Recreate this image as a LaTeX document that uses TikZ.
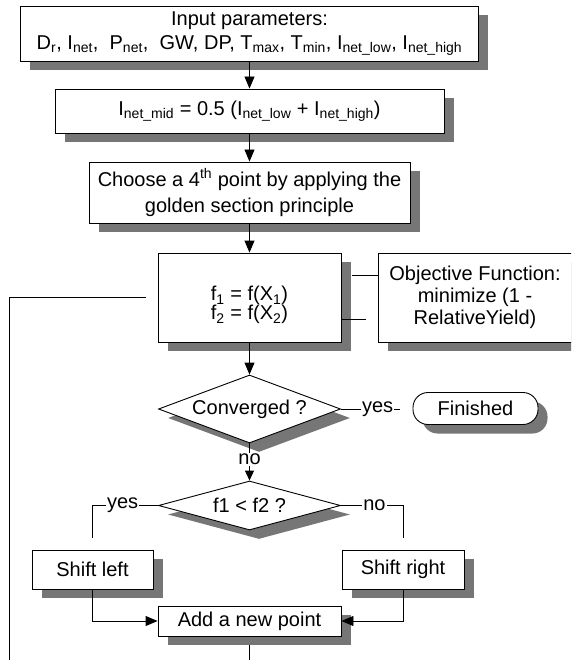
\documentclass[tikz,border=0pt]{standalone}
\usepackage{fontspec}
\setmainfont{Liberation Sans}
\usetikzlibrary{shapes.geometric,shadows,arrows.meta,calc}
\definecolor{shadowgray}{RGB}{118,118,118}

\begin{document}
\begin{tikzpicture}[x=1pt,y=-1pt,
  font=\fontsize{20}{23}\selectfont,
  every node/.style={inner sep=0pt,align=center},
  shade9/.style={drop shadow={shadow xshift=9.5pt,shadow yshift=-9pt,fill=shadowgray,opacity=1}},
  stepbox/.style={draw,fill=white,line width=0.9pt,shade9},
  decision/.style={diamond,draw,fill=white,line width=0.9pt,shade9},
  terminal/.style={draw,fill=white,line width=0.9pt,rounded corners=15pt,shade9},
  conn/.style={line width=0.9pt},
  arrow/.style={conn,-{Triangle[length=12pt,width=10pt]}},
  smallarrow/.style={conn,-{Triangle[length=10pt,width=9pt]}},
  lbl/.style={fill=white,inner sep=1pt}]

\useasboundingbox (0,0) rectangle (571,660);
\clip (0,0) rectangle (571,660);

% process boxes
\node[stepbox,minimum width=458,minimum height=55] (in) at (249.5,33.5)
  {Input parameters:\\[1pt]
   D\textsubscript{r}, I\textsubscript{net},\ \ P\textsubscript{net},\ \ GW, DP, T\textsubscript{max}, T\textsubscript{min}, I\textsubscript{net\_low}, I\textsubscript{net\_high}};
\node[stepbox,minimum width=389,minimum height=44] (mid) at (249.5,111)
  {I\textsubscript{net\_mid} = 0.5 (I\textsubscript{net\_low} + I\textsubscript{net\_high})};
\node[stepbox,minimum width=321,minimum height=61] (gold) at (249.5,192.5)
  {Choose a 4\textsuperscript{th} point by applying the\\[3pt] golden section principle};
\node[stepbox,minimum width=183,minimum height=89] (feval) at (249.5,297.5)
  {\rule{0pt}{30pt}f\textsubscript{1} = f(X\textsubscript{1})\\[-4pt] f\textsubscript{2} = f(X\textsubscript{2})};
\node[stepbox,minimum width=194,minimum height=89] (obj) at (475,297.5)
  {Objective Function:\\[-0.7pt] minimize (1 -\\[-0.7pt] RelativeYield)};

% decisions and end
\node[decision,aspect=2.68,minimum width=182,minimum height=68] (conv) at (249.5,409) {Converged ?};
\node[terminal,minimum width=125,minimum height=32] (fin) at (475.5,408.5) {Finished};
\node[decision,aspect=3.7,minimum width=182,minimum height=49] (cmp) at (249.5,505.5) {f1 < f2 ?};

% branch boxes
\node[stepbox,minimum width=121,minimum height=39] (left) at (92.5,569.5) {Shift left};
\node[stepbox,minimum width=122,minimum height=39] (right) at (403,569.5) {Shift right};
\node[stepbox,minimum width=183,minimum height=30] (add) at (249.5,621) {Add a new point};

% free connector ends
\coordinate (finstub) at (400,409);
\coordinate (lstub) at (92.5,538);
\coordinate (rstub) at (403,538);
\coordinate (loopbot) at (249.5,690);
\coordinate (loopcorner) at (9,690);
\coordinate (loopend) at ($(feval.west)+(-12,0)$);

% main flow
\draw[arrow] (in) -- (mid);
\draw[arrow] (mid) -- (gold);
\draw[arrow] (gold) -- (feval);
\draw[arrow] (feval) -- (conv);
\draw[smallarrow] (conv.south) -- node[lbl,pos=0.42] {no} (cmp.north);
\draw[conn] (conv.east) -- node[lbl,pos=0.62] {yes} (finstub);
\draw[conn] (cmp.west) -| node[lbl,pos=0.27] {yes} (lstub);
\draw[conn] (cmp.east) -| node[lbl,pos=0.27] {no} (rstub);
\draw[arrow] (left.south) |- (add.west);
\draw[arrow] (right.south) |- (add.east);

% loop back to the evaluation step
\draw[conn,shorten <=9pt] (add.south) -- (loopbot) -- (loopcorner) |- (loopend);

% links to the objective function note
\draw[conn,shorten <=11pt] ([yshift=22.5pt]feval.east) -- ([yshift=22.5pt]obj.west);
\draw[conn] (feval.east) -- ++(0,21.5) -- ++(25,0);
\end{tikzpicture}
\end{document}
